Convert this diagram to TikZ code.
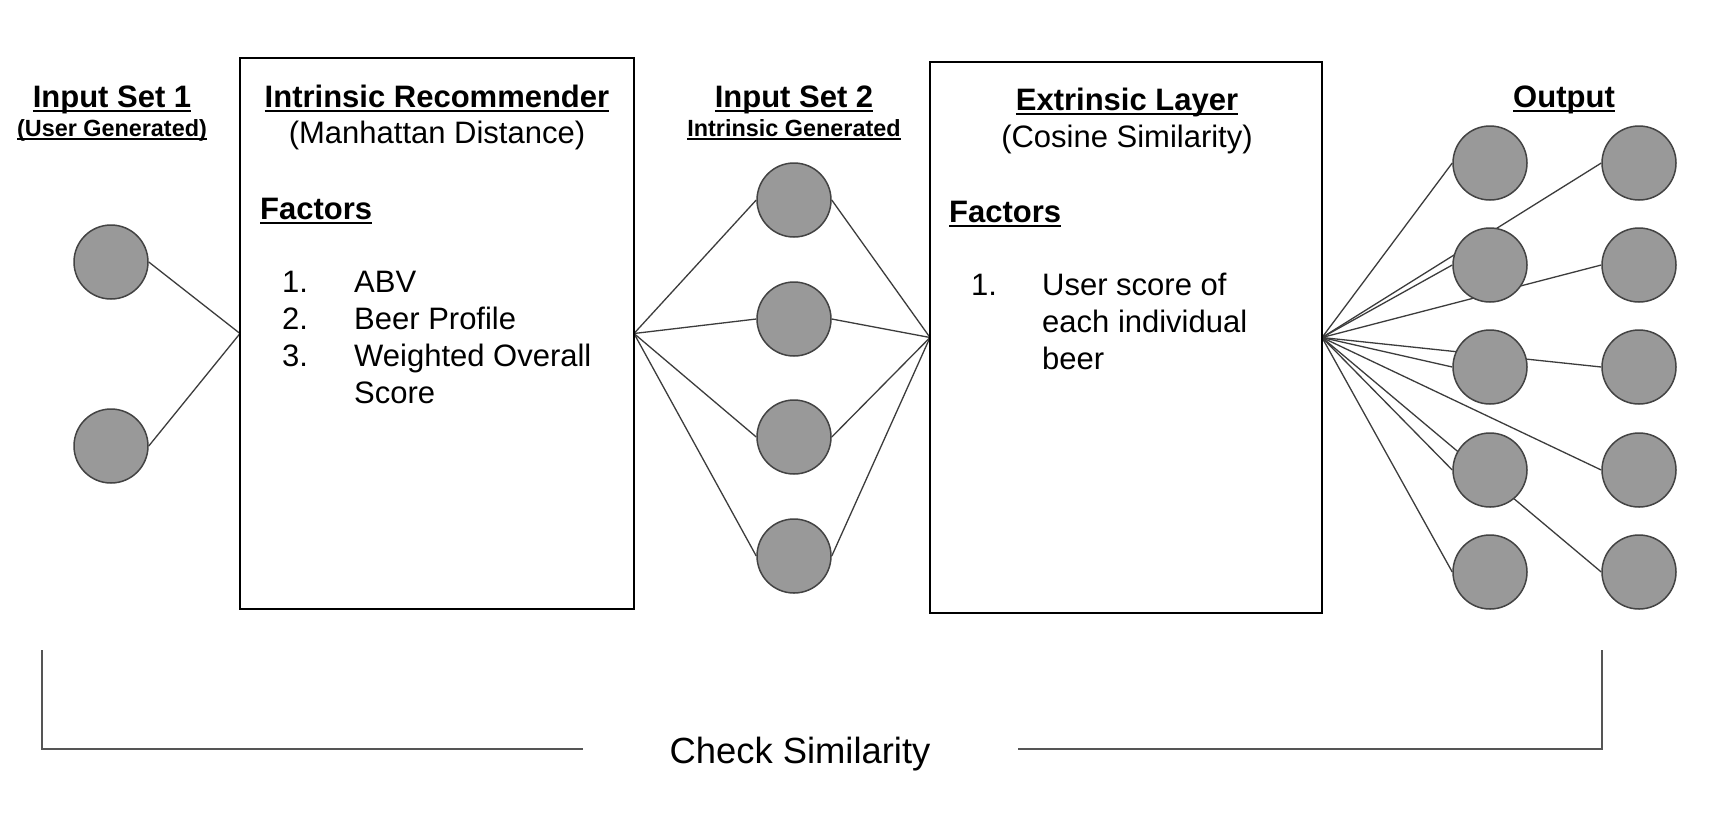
\documentclass[tikz,border=0pt]{standalone}
\usepackage{fontspec}
\setmainfont{Liberation Sans}
\usetikzlibrary{backgrounds}
\definecolor{dotgray}{HTML}{999999}
\definecolor{dotedge}{HTML}{434343}
\definecolor{linkgray}{HTML}{3C3C3C}
\definecolor{brgray}{HTML}{555555}
\newcommand\ulin[1]{\setbox0\hbox{#1}\rlap{\rule[-0.16em]{\wd0}{0.065em}}\box0}
\tikzset{
  hdr/.style={anchor=base, inner sep=0pt, font=\bfseries\fontsize{31}{37}\selectfont},
  subhdr/.style={anchor=base, inner sep=0pt, font=\bfseries\fontsize{23.4}{28}\selectfont},
  body/.style={anchor=base, inner sep=0pt, font=\fontsize{31}{37}\selectfont},
  lhdr/.style={anchor=base west, inner sep=0pt, font=\bfseries\fontsize{31}{37}\selectfont},
  lbody/.style={anchor=base west, inner sep=0pt, font=\fontsize{31}{37}\selectfont},
  dot/.style={circle, fill=dotgray, draw=dotedge, line width=1.5pt, minimum size=74pt, inner sep=0pt},
  panel/.style={draw=black, line width=2pt, inner sep=0pt, outer sep=0pt},
  link/.style={draw=linkgray, line width=1.3pt},
  bracket/.style={draw=brgray, line width=1.6pt},
}
\begin{document}
\begin{tikzpicture}[x=1pt,y=-1pt]
\useasboundingbox (0,0) rectangle (1726,820);
% Input set 1
\node[hdr] (t1) at (112,107) {\ulin{Input Set 1}};
\node[subhdr] (t1s) at (112,136) {\ulin{(User Generated)}};
\node[dot] (u1) at (111,262) {};
\node[dot] (u2) at (111,446) {};
% Intrinsic recommender
\node[panel, minimum width=394pt, minimum height=551pt] (intr) at (437,333.5) {};
\node[hdr] (intrT) at (437,107) {\ulin{Intrinsic Recommender}};
\node[body] (intrS) at (437,143) {(Manhattan Distance)};
\node[lhdr] (intrF) at (260,219) {\ulin{Factors}};
\node[lbody] (in1) at (282,292) {1.};
\node[lbody] (it1) at (354,292) {ABV};
\node[lbody] (in2) at (282,329) {2.};
\node[lbody] (it2) at (354,329) {Beer Profile};
\node[lbody] (in3) at (282,366) {3.};
\node[lbody] (it3) at (354,366) {Weighted Overall};
\node[lbody] (it3b) at (354,403) {Score};
% Input set 2
\node[hdr] (t2) at (794,107) {\ulin{Input Set 2}};
\node[subhdr] (t2s) at (794,136) {\ulin{Intrinsic Generated}};
\node[dot] (s1) at (794,200) {};
\node[dot] (s2) at (794,319) {};
\node[dot] (s3) at (794,437) {};
\node[dot] (s4) at (794,556) {};
% Extrinsic layer
\node[panel, minimum width=392pt, minimum height=551pt] (ext) at (1126,337.5) {};
\node[hdr] (extT) at (1127,110) {\ulin{Extrinsic Layer}};
\node[body] (extS) at (1127,147) {(Cosine Similarity)};
\node[lhdr] (extF) at (949,222) {\ulin{Factors}};
\node[lbody] (en1) at (971,295) {1.};
\node[lbody] (et1) at (1042,295) {User score of};
\node[lbody] (et1b) at (1042,332) {each individual};
\node[lbody] (et1c) at (1042,369) {beer};
% Output
\node[hdr] (t3) at (1564,107) {\ulin{Output}};
\foreach \i/\yy in {1/163,2/265,3/367,4/470,5/572}{
  \node[dot] (a\i) at (1490,\yy) {};
  \node[dot] (b\i) at (1639,\yy) {};
}
% Check similarity
\node[body, font=\fontsize{36.4}{42}\selectfont] (chk) at (800,763) {Check Similarity};
\coordinate (bl1) at (42,650);
\coordinate (bl2) at (42,749);
\coordinate (bl3) at (583,749);
\coordinate (br1) at (1602,650);
\coordinate (br2) at (1602,749);
\coordinate (br3) at (1018,749);
\begin{pgfonlayer}{background}
\fill[white] (0,0) rectangle (1726,820);
\draw[link] (u1.east) -- (intr.west);
\draw[link] (u2.east) -- (intr.west);
\foreach \i in {1,2,3,4}{
  \draw[link] (intr.east) -- (s\i.west);
  \draw[link] (s\i.east) -- (ext.west);
}
\foreach \i in {1,2,3,4,5}{
  \draw[link] (ext.east) -- (a\i.west);
  \draw[link] (ext.east) -- (b\i.west);
}
\draw[bracket] (bl1) -- (bl2) -- (bl3);
\draw[bracket] (br3) -- (br2) -- (br1);
\end{pgfonlayer}
\end{tikzpicture}
\end{document}
